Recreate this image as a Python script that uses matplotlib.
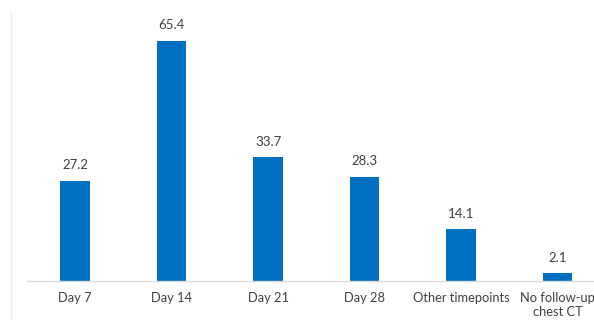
import matplotlib.pyplot as plt
from matplotlib.lines import Line2D

# Data
categories = ['Day 7', 'Day 14', 'Day 21', 'Day 28', 'Other timepoints', 'No follow-up\nchest CT']
values = [27.2, 65.4, 33.7, 28.3, 14.1, 2.1]

plt.rcParams['font.family'] = ['Lato', 'DejaVu Sans']

fig = plt.figure(figsize=(5.94, 3.2), dpi=100)
ax = fig.add_axes([26.75 / 594, 39 / 320, (594 - 26.75) / 594, 281 / 320])

x = range(len(categories))
bars = ax.bar(x, values, width=0.31, color='#0070C0', zorder=2)

for rect, v in zip(bars, values):
    ax.annotate(f'{v:.1f}', (rect.get_x() + rect.get_width() / 2, v),
                xytext=(0, 7), textcoords='offset points',
                ha='center', va='bottom', fontsize=9.5, color='#404040')

ax.set_xlim(-0.5, (594 - 26.75) / 96.5 - 0.5)
ax.set_ylim(0, 76.6)
ax.set_xticks(list(x))
ax.set_xticklabels(categories, fontsize=9.3, color='#404040', linespacing=1.2)
ax.tick_params(axis='x', length=0, pad=8)
ax.set_yticks([])

for side in ['top', 'right', 'left']:
    ax.spines[side].set_visible(False)
ax.spines['bottom'].set_color('#d9d9d9')
ax.spines['bottom'].set_linewidth(1)

# last label sits against the right edge, nudge it left a little
last = ax.get_xticklabels()[-1]
last.set_x(last.get_position()[0] - 0.02)

# faint frame line on the left edge
fig.add_artist(Line2D([10.5 / 594, 10.5 / 594], [0, 1 - 12 / 320],
                      color='#ececec', linewidth=1, transform=fig.transFigure))

fig.savefig('out.png', dpi=100)
